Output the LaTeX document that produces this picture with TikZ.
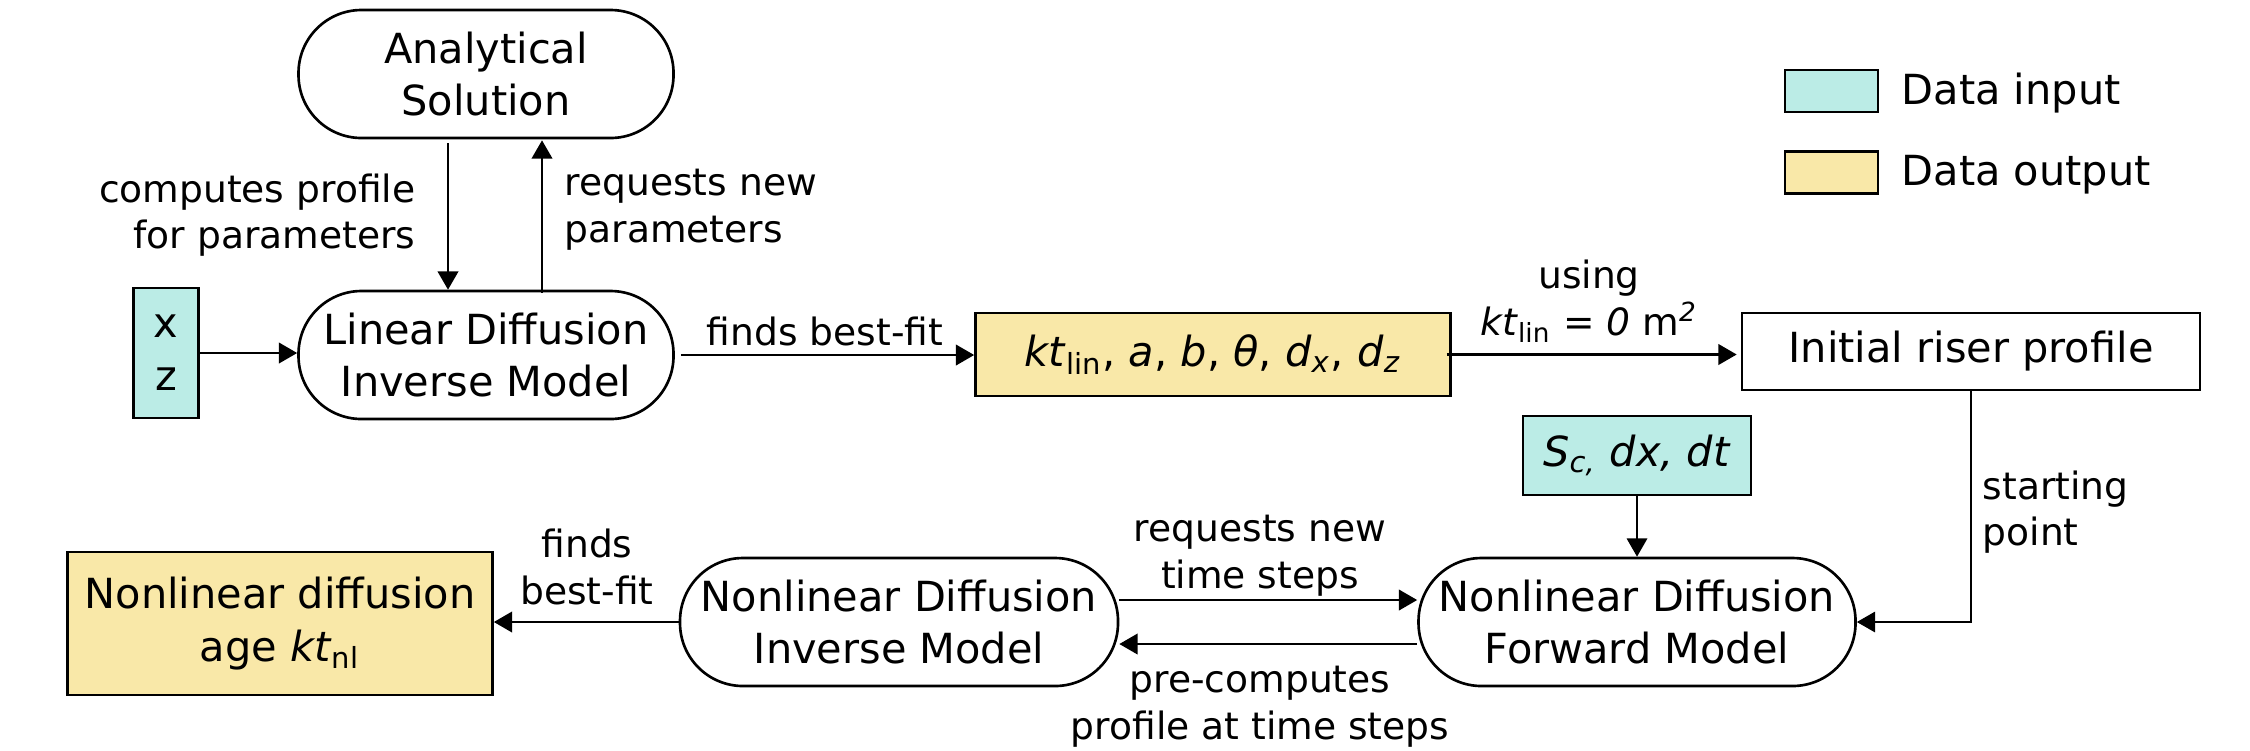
\documentclass[tikz,border=0pt]{standalone}
\usepackage{fontspec}
\setmainfont{DejaVu Sans}
\usepackage{tikz}
\usetikzlibrary{arrows.meta, positioning, calc}

\definecolor{incol}{RGB}{187,236,230}
\definecolor{outcol}{RGB}{249,232,168}

\begin{document}
\begin{tikzpicture}[
      every node/.style={font=\fontsize{11.8}{15}\selectfont},
      box/.style={rectangle, draw, line width=0.75pt, inner sep=0pt, align=center},
      inbox/.style={box, fill=incol},
      outbox/.style={box, fill=outcol},
      procbox/.style={box, rounded corners=6.3mm, minimum width=3.75cm, minimum height=1.28cm},
      lbl/.style={align=center, inner sep=0pt, font=\fontsize{10.7}{13.3}\selectfont},
      arrow/.style={-{Triangle[length=5.2pt,width=5.8pt]}, line width=0.75pt},
      thinarrow/.style={-{Triangle[length=5.2pt,width=5.8pt]}, line width=0.6pt}
    ]
      \useasboundingbox (0,0) rectangle (22.5,-7.5);

      % Row 0: Analytical solution
      \node[procbox] (analytic) at (4.86,-0.74) {Analytical\\Solution};

      % Legend
      \node[inbox, minimum width=0.93cm, minimum height=0.42cm] (legin) at (18.315,-0.91) {};
      \node[outbox, minimum width=0.93cm, minimum height=0.42cm] (legout) at (18.315,-1.725) {};
      \node[lbl, anchor=west, font=\fontsize{11.8}{15}\selectfont] (leginlbl) at (19.01,-0.93) {Data input};
      \node[lbl, anchor=west, font=\fontsize{11.8}{15}\selectfont] (legoutlbl) at (19.01,-1.75) {Data output};

      % Row 1: Linear inverse model
      \node[inbox, minimum width=0.65cm, minimum height=1.30cm] (xz) at (1.66,-3.53) {x\\z};
      \node[procbox] (lininv) at (4.86,-3.55) {Linear Diffusion\\Inverse Model};
      \node[outbox, minimum width=4.75cm, minimum height=0.83cm] (ktlin) at (12.13,-3.545)
        {\textit{kt}\textsubscript{lin}, \textit{a}, \textit{b}, \textit{θ}, \textit{d}\textsubscript{\textit{x}}, \textit{d}\textsubscript{\textit{z}}};
      \node[box, minimum width=4.58cm, minimum height=0.77cm] (initial) at (19.71,-3.515) {Initial riser profile};

      % Row 2: Forward model inputs
      \node[inbox, minimum width=2.28cm, minimum height=0.79cm] (sc) at (16.37,-4.555)
        {\textit{S}\textsubscript{\textit{c,}} \textit{dx, dt}};

      % Row 3: Nonlinear models and output
      \node[outbox, minimum width=4.25cm, minimum height=1.43cm] (nlage) at (2.80,-6.235)
        {Nonlinear diffusion\\age \textit{kt}\textsubscript{nl}};
      \node[procbox, minimum width=4.38cm] (nlinv) at (8.99,-6.22) {Nonlinear Diffusion\\Inverse Model};
      \node[procbox, minimum width=4.37cm] (nlfwd) at (16.37,-6.22) {Nonlinear Diffusion\\Forward Model};

      % === LABELS ===
      \node[lbl, anchor=east, align=right] (lblcomp) at (4.16,-2.15) {computes profile\\for parameters};
      \node[lbl, anchor=west, align=left] (lblreq) at (5.64,-2.10) {requests new\\parameters};
      \node[lbl] (lblfit) at (8.25,-3.31) {finds best-fit};
      \node[lbl] (lblusing) at (15.89,-3.01)
        {using\\\textit{kt}\textsubscript{lin} = \textit{0} m\textsuperscript{\textit{2}}};
      \node[lbl, anchor=west, align=left] (lblstart) at (19.82,-5.12) {starting\\point};
      \node[lbl] (lblsteps) at (12.60,-5.56) {requests new\\time steps};
      \node[lbl] (lblpre) at (12.60,-7.07) {pre-computes\\profile at time steps};
      \node[lbl] (lblnlfit) at (5.87,-5.67) {finds\\best-fit};

      % === ARROWS ===
      % Linear inverse loop with analytical solution
      \draw[arrow] ([xshift=-3.8mm]analytic.south) ++(0,-0.04) -- ([xshift=-3.8mm]lininv.north);
      \draw[arrow] ([xshift=5.6mm]lininv.north) ++(0,-0.03) -- ([xshift=5.6mm,yshift=-0.1mm]analytic.south);
      \draw[arrow] (xz.east) -- (xz.east -| lininv.west);
      \draw[arrow, shorten <=0.6mm] (lininv.east) -- (lininv.east -| ktlin.west);
      \draw[arrow] ([xshift=-0.5mm]ktlin.east) -- ([xshift=-0.4mm]ktlin.east -| initial.west);

      % Initial profile and parameters into forward model
      \draw[thinarrow] (initial.south) |- (nlfwd.east);
      \draw[thinarrow] (sc.south) -- (nlfwd.north);

      % Nonlinear inverse <-> forward loop
      \draw[arrow] ([yshift=2.2mm]nlinv.east) -- ([yshift=2.2mm]nlfwd.west);
      \draw[arrow] ([yshift=-2.2mm]nlfwd.west) -- ([yshift=-2.2mm]nlinv.east);
      \draw[arrow] (nlinv.west) -- (nlinv.west -| nlage.east);
    \end{tikzpicture}
\end{document}
